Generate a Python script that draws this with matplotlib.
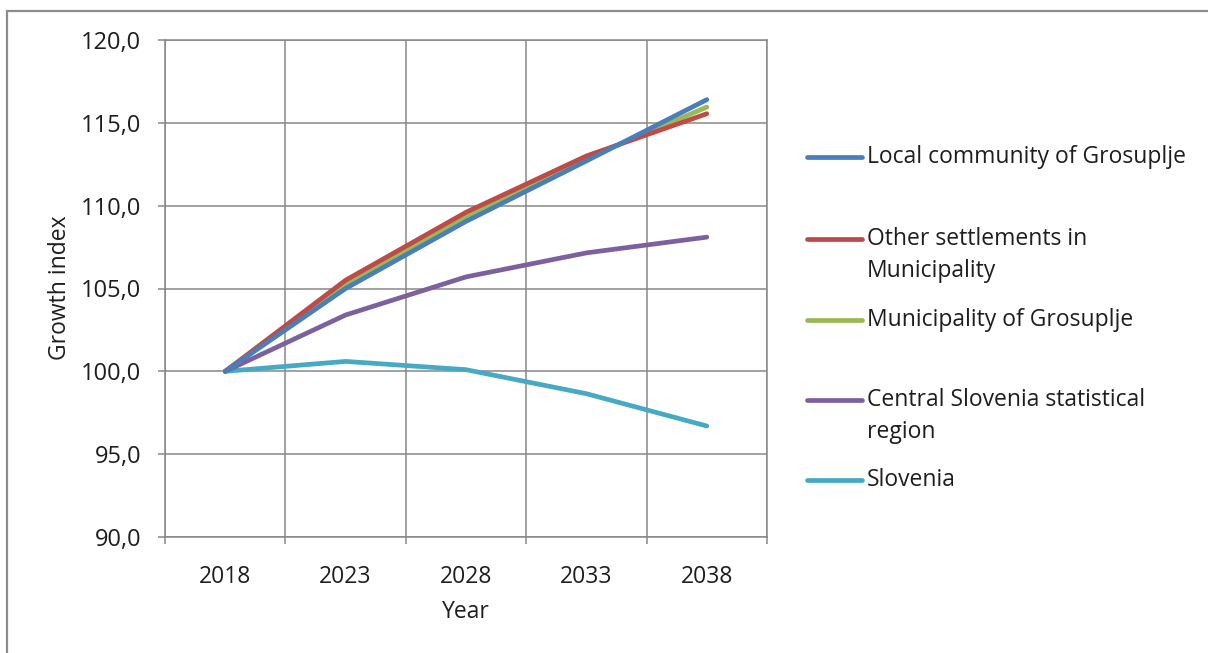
import matplotlib
matplotlib.use("Agg")
import matplotlib.pyplot as plt
from matplotlib.lines import Line2D
from matplotlib.patches import Rectangle
import numpy as np

# Population growth index projections (2018 = 100)
years = ["2018", "2023", "2028", "2033", "2038"]
local_community = [100.0, 105.0, 109.05, 112.7, 116.4]
other_settlements = [100.0, 105.5, 109.6, 113.0, 115.55]
municipality = [100.0, 105.25, 109.3, 112.85, 115.95]
central_slovenia = [100.0, 103.4, 105.7, 107.15, 108.1]
slovenia = [100.0, 100.6, 100.1, 98.65, 96.7]

series_names = [
    "Local community of Grosuplje",
    "Other settlements in\nMunicipality",
    "Municipality of Grosuplje",
    "Central Slovenia statistical\nregion",
    "Slovenia",
]
series_values = [local_community, other_settlements, municipality,
                 central_slovenia, slovenia]
series_colors = ["#4A7EBB", "#BE4B48", "#98B954", "#7D60A0", "#46AAC5"]

y_ticks = [90, 95, 100, 105, 110, 115, 120]

W, H = 1208, 653
TEXT = "#1e1e1e"
FS = 16.5
LW = 3.4
plt.rcParams["font.family"] = ["Open Sans", "DejaVu Sans"]
fig = plt.figure(figsize=(W / 100, H / 100), dpi=100)

# outer frame (top and left edges visible)
fig.add_artist(Rectangle((7 / W, -1), 2, 1 - 11 / H + 1, transform=fig.transFigure,
                         fill=False, edgecolor="#8c8c8c", linewidth=1.6))

left, right, top, bottom = 165, 767, 40, 537
ax = fig.add_axes([left / W, 1 - bottom / H, (right - left) / W, (bottom - top) / H])

x = np.arange(len(years))
grid_color = "#878787"

# draw the series so the first one ends up on top
for name, vals, col in reversed(list(zip(series_names, series_values, series_colors))):
    ax.plot(x, vals, color=col, linewidth=LW, solid_capstyle="round",
            solid_joinstyle="round", zorder=3)

ax.set_xlim(-0.5, len(years) - 0.5)
ax.set_ylim(90, 120)

ax.set_yticks(y_ticks)
ax.set_yticklabels([f"{v:.1f}".replace(".", ",") for v in y_ticks])
ax.set_xticks(x)
ax.set_xticklabels(years)
ax.set_xticks(np.arange(-0.5, len(years)), minor=True)

ax.tick_params(axis="y", which="major", length=5, width=1.1, color=grid_color,
               pad=12, labelsize=17, labelcolor=TEXT)
ax.tick_params(axis="x", which="major", length=0, pad=20, labelsize=FS,
               labelcolor=TEXT)
ax.tick_params(axis="x", which="minor", length=5, width=1.1, color=grid_color)

for v in y_ticks:
    ax.axhline(v, color=grid_color, linewidth=1.1, zorder=1)
for xb in np.arange(-0.5, len(years)):
    ax.axvline(xb, color=grid_color, linewidth=1.1, zorder=1)
for s in ax.spines.values():
    s.set_color(grid_color)
    s.set_linewidth(1.1)

ax.set_ylabel("Growth index", fontsize=FS, color=TEXT, va="center")
ax.yaxis.set_label_coords((60 - left) / (right - left), (bottom - 288) / (bottom - top))
ax.set_xlabel("Year", fontsize=FS, color=TEXT, va="center")
ax.xaxis.set_label_coords(0.5, (bottom - 612) / (bottom - top))

# legend, with the marker beside the first text line
legend_rows = [157, 239, 320, 400, 480]
line_gap = 32
for name, col, yy in zip(series_names, series_colors, legend_rows):
    fy = 1 - yy / H
    fig.add_artist(Line2D([807 / W, 862 / W], [fy, fy], transform=fig.transFigure,
                          color=col, linewidth=LW, solid_capstyle="round"))
    for i, part in enumerate(name.split("\n")):
        fig.text(867 / W, 1 - (yy + i * line_gap) / H, part, ha="left", va="center",
                 fontsize=FS, color=TEXT)

fig.savefig("out.png", dpi=100)
